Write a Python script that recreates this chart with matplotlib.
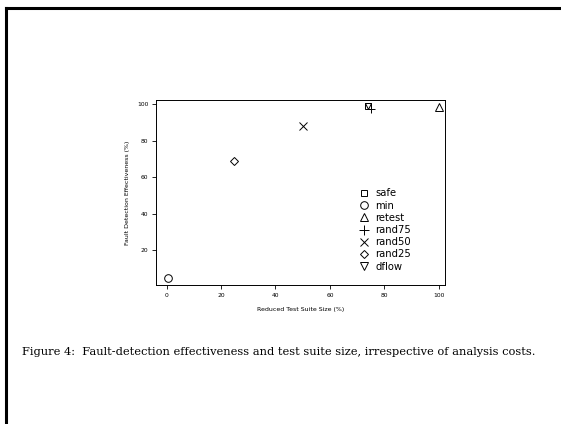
import matplotlib
matplotlib.use("Agg")
import matplotlib.pyplot as plt
from matplotlib.lines import Line2D

techniques = ["safe", "min", "retest", "rand75", "rand50", "rand25", "dflow"]
suite_size = [73.9, 0.5, 100.0, 75.0, 50.2, 24.9, 74.0]
effectiveness = [99.0, 4.7, 98.7, 97.3, 88.1, 69.1, 99.0]
markers = ["s", "o", "^", "+", "x", "D", "v"]
msizes = [5, 5.5, 5.5, 6, 5.5, 3.8, 4.5]
legend_msizes = [5, 5.5, 5.5, 6.5, 6, 4, 5.5]
x_ticks = [0, 20, 40, 60, 80, 100]
y_ticks = [20, 40, 60, 80, 100]

fig = plt.figure(figsize=(5.61, 4.24), dpi=100)
ax = fig.add_axes([0.278, 0.328, 0.515, 0.436])

handles = []
for name, x, y, m, ms, lms in zip(techniques, suite_size, effectiveness, markers, msizes, legend_msizes):
    ax.plot([x], [y], linestyle="none", marker=m, markersize=ms,
            markerfacecolor="none", markeredgecolor="black",
            markeredgewidth=0.7, color="black")
    handles.append(Line2D([], [], linestyle="none", marker=m, markersize=lms,
                          markerfacecolor="none", markeredgecolor="black",
                          markeredgewidth=0.7, label=name))

ax.set_xlim(-3.9, 102.2)
ax.set_ylim(0.8, 102.4)
ax.set_xticks(x_ticks)
ax.set_yticks(y_ticks)
ax.tick_params(labelsize=4.3, length=3, width=0.6, direction="out", pad=2.5)
for s in ax.spines.values():
    s.set_linewidth(0.7)
ax.set_xlabel("Reduced Test Suite Size (%)", fontsize=4.5, labelpad=7)
ax.set_ylabel("Fault Detection Effectiveness (%)", fontsize=4.5, labelpad=5)

ax.legend(handles=handles, loc="upper left", bbox_to_anchor=(0.68, 0.56), frameon=False,
          fontsize=7.2, handletextpad=0.6, labelspacing=0.22, handlelength=1.0,
          borderpad=0.2)

fig.text(0.04, 1 - 352 / 424, "Figure 4:  Fault-detection effectiveness and test suite size, irrespective of analysis costs.",
         fontsize=8.2, family="DejaVu Serif", va="center", ha="left")

# page frame (top and left edges)
fig.add_artist(Line2D([5.5 / 561, 1], [1 - 7.5 / 424, 1 - 7.5 / 424],
                      transform=fig.transFigure, color="black", linewidth=2.2))
fig.add_artist(Line2D([5.5 / 561, 5.5 / 561], [0, 1 - 7.5 / 424],
                      transform=fig.transFigure, color="black", linewidth=2.2))

fig.savefig("out.png", dpi=100)
